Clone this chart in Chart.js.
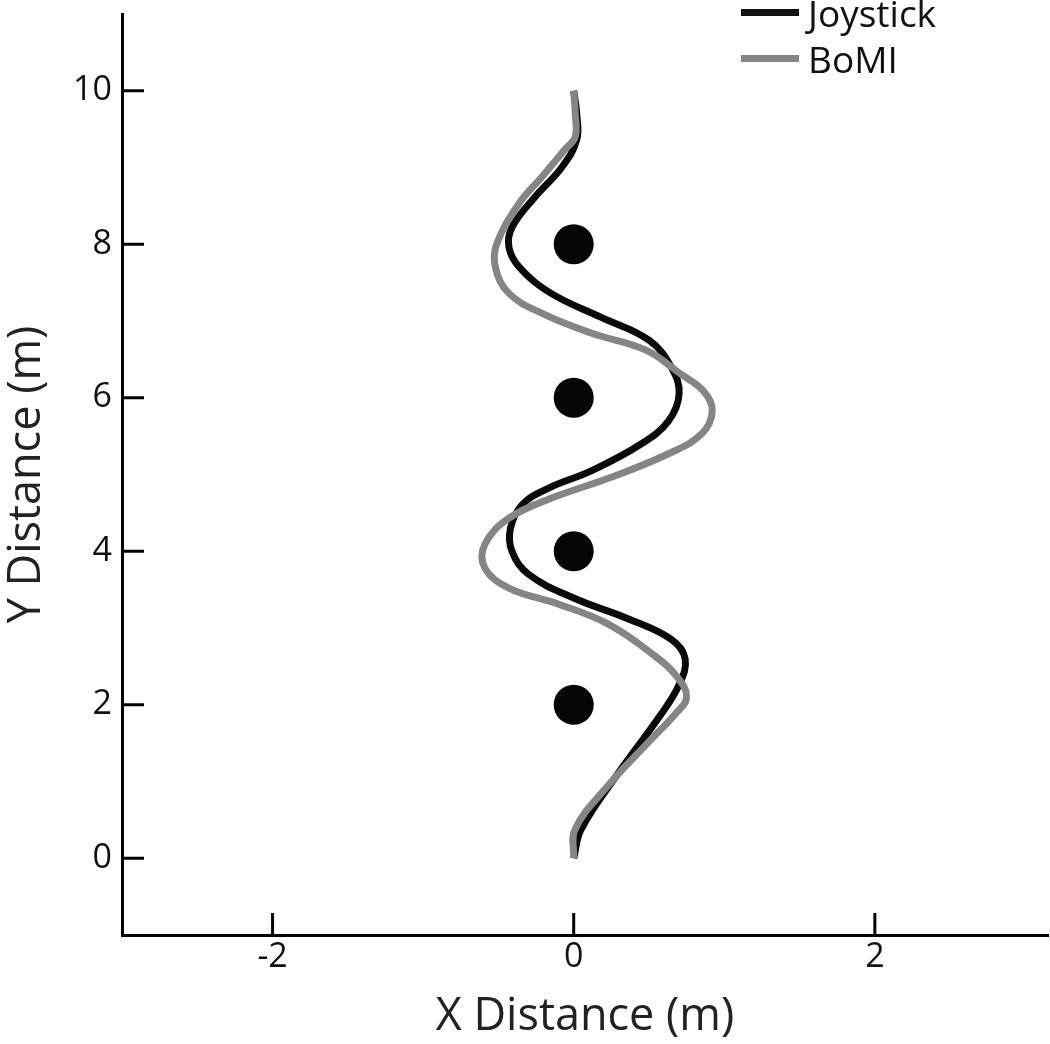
<!DOCTYPE html>
<html>
<head>
<meta charset="utf-8">
<title>Joystick vs BoMI path</title>
<script src="https://cdn.jsdelivr.net/npm/chart.js@4.4.1/dist/chart.umd.min.js"></script>
<style>
    html, body { margin: 0; padding: 0; background: #fff; }
    #wrap { position: relative; width: 1050px; height: 1044px; }
    #legend { position: absolute; left: 741px; top: -11px; font-family: "Open Sans", sans-serif; font-size: 37px; color: #111; }
    #legend div { display: flex; align-items: center; height: 46px; }
    #legend span.swatch { display: inline-block; width: 58px; height: 7px; margin-right: 9px; }
</style>
</head>
<body>
<div id="wrap">
    <canvas id="pathChart" width="1050" height="1044"></canvas>
    <div id="legend">
        <div><span class="swatch" style="background:#111"></span>Joystick</div>
        <div><span class="swatch" style="background:#858585"></span>BoMI</div>
    </div>
</div>
<script>
// --- Data (metres) ---
const joystickX = [0, 0.05, 0.30, 0.56, 0.70, 0.74, 0.65, 0.36, 0, -0.30, -0.41, -0.42, -0.34, -0.17, 0.12, 0.45, 0.63, 0.70, 0.65, 0.50, 0.18, -0.15, -0.36, -0.43, -0.41, -0.26, -0.08, 0.02, 0.02, 0];
const joystickY = [0, 0.38, 1.12, 1.82, 2.26, 2.60, 2.85, 3.12, 3.39, 3.70, 4.00, 4.30, 4.61, 4.82, 5.05, 5.40, 5.70, 6.05, 6.39, 6.75, 7.05, 7.36, 7.70, 7.96, 8.22, 8.61, 9.00, 9.36, 9.70, 10.0];

const bomiX = [0, 0.01, 0.23, 0.50, 0.67, 0.75, 0.68, 0.53, 0.23, -0.10, -0.43, -0.59, -0.59, -0.43, -0.15, 0.23, 0.63, 0.85, 0.92, 0.86, 0.71, 0.48, 0.12, -0.21, -0.43, -0.52, -0.51, -0.36, -0.21, -0.06, 0.01, 0.01, 0];
const bomiY = [0, 0.38, 0.95, 1.52, 1.87, 2.10, 2.38, 2.65, 3.05, 3.31, 3.52, 3.78, 4.09, 4.43, 4.69, 4.95, 5.27, 5.53, 5.83, 6.09, 6.31, 6.62, 6.84, 7.10, 7.36, 7.70, 8.01, 8.54, 8.88, 9.23, 9.40, 9.70, 10.0];

const targetX = [0, 0, 0, 0];
const targetY = [2, 4, 6, 8];

const xTicks = [-2, 0, 2];
const yTicks = [0, 2, 4, 6, 8, 10];

const toPoints = (xs, ys) => xs.map((x, i) => ({ x: x, y: ys[i] }));

// --- Inward tick marks, MATLAB style ---
const inwardTicks = {
    id: 'inwardTicks',
    afterDraw(chart) {
        const { ctx, chartArea, scales } = chart;
        ctx.save();
        ctx.strokeStyle = '#000';
        ctx.lineWidth = 3;
        ctx.beginPath();
        scales.x.ticks.forEach(t => {
            const px = scales.x.getPixelForValue(t.value);
            ctx.moveTo(px, chartArea.bottom);
            ctx.lineTo(px, chartArea.bottom - 22);
        });
        scales.y.ticks.forEach(t => {
            const py = scales.y.getPixelForValue(t.value);
            ctx.moveTo(chartArea.left, py);
            ctx.lineTo(chartArea.left + 22, py);
        });
        ctx.stroke();
        ctx.restore();
    }
};

const ctx = document.getElementById('pathChart').getContext('2d');
new Chart(ctx, {
    type: 'scatter',
    data: {
        datasets: [
            {
                label: 'Targets', data: toPoints(targetX, targetY),
                pointRadius: 20, pointBackgroundColor: '#050505', pointBorderWidth: 0, order: 0
            },
            {
                label: 'BoMI', data: toPoints(bomiX, bomiY), showLine: true, tension: 0.4,
                borderColor: '#858585', borderWidth: 7, pointRadius: 0, order: 1
            },
            {
                label: 'Joystick', data: toPoints(joystickX, joystickY), showLine: true, tension: 0.4,
                borderColor: '#0a0a0a', borderWidth: 7, pointRadius: 0, order: 2
            }
        ]
    },
    options: {
        responsive: false,
        animation: false,
        layout: { autoPadding: false, padding: { top: 14, right: 2, left: 0, bottom: 0 } },
        plugins: { legend: { display: false }, tooltip: { enabled: false } },
        scales: {
            x: {
                type: 'linear', min: -3, max: 3.15,
                afterBuildTicks: s => { s.ticks = xTicks.map(v => ({ value: v })); },
                afterFit: s => { s.height = 109; s.paddingLeft = 0; s.paddingRight = 0; },
                grid: { display: false, drawTicks: false },
                border: { display: true, color: '#000', width: 3 },
                ticks: { color: '#111', padding: 2, font: { family: 'Open Sans', size: 34 } },
                title: { display: true, text: 'X Distance (m)', color: '#222', padding: { top: 0, bottom: 0 }, font: { family: 'Open Sans', size: 45 } }
            },
            y: {
                type: 'linear', min: -1, max: 11,
                afterBuildTicks: s => { s.ticks = yTicks.map(v => ({ value: v })); },
                afterFit: s => { s.width = 122; s.paddingTop = 0; s.paddingBottom = 0; },
                grid: { display: false, drawTicks: false },
                border: { display: true, color: '#000', width: 3 },
                ticks: { color: '#111', padding: 10, font: { family: 'Open Sans', size: 34 } },
                title: { display: true, text: 'Y Distance (m)', color: '#222', padding: { top: 0, bottom: 0 }, font: { family: 'Open Sans', size: 45 } }
            }
        }
    },
    plugins: [inwardTicks]
});
</script>
</body>
</html>
